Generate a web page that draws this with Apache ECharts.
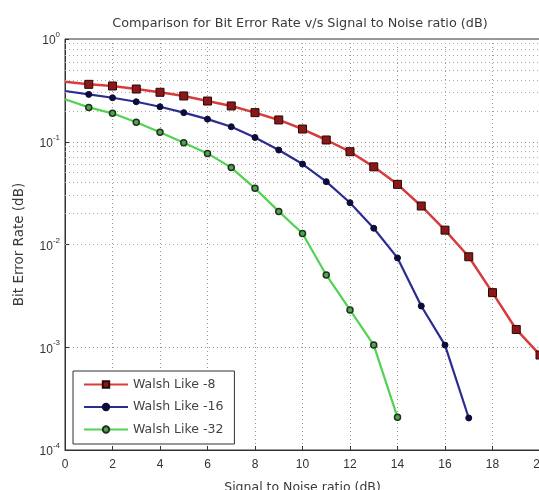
<!DOCTYPE html>
<html>
<head>
<meta charset="utf-8">
<script src="https://cdn.jsdelivr.net/npm/echarts@6/dist/echarts.min.js"></script>
<style>html,body{margin:0;padding:0;background:#fff;}#c{width:539px;height:490px;}</style>
</head>
<body>
<div id="c"></div>
<script>
var snr = [0,1,2,3,4,5,6,7,8,9,10,11,12,13,14,15,16,17,18,19,20];
var walsh8 = [0.384,0.362,0.349,0.326,0.303,0.279,0.249,0.223,0.192,0.163,0.133,0.104,0.080,0.057,0.0385,0.0237,0.0138,0.0076,0.0034,0.00149,0.00084];
var walsh16 = [0.312,0.289,0.268,0.245,0.219,0.192,0.166,0.140,0.110,0.083,0.0607,0.0409,0.0255,0.0144,0.0074,0.00252,0.00105,0.000205];
var walsh32 = [0.259,0.216,0.189,0.155,0.124,0.098,0.077,0.056,0.0352,0.0210,0.0128,0.00505,0.00231,0.00105,0.000208];
var seriesNames = ['Walsh Like -8','Walsh Like -16','Walsh Like -32'];
var xTicks = [0,2,4,6,8,10,12,14,16,18,20];
var yDecades = [-4,-3,-2,-1,0];

function pairs(vals){ return vals.map(function(v,i){ return [snr[i], v]; }); }
var minorLines = [];
for (var d = -4; d < 0; d++) {
  for (var k = 2; k <= 9; k++) minorLines.push({yAxis: k * Math.pow(10, d)});
}
var font = 'Liberation Sans, Arial, sans-serif';
var wfont = 'DejaVu Sans, sans-serif';
var chart = echarts.init(document.getElementById('c'));
chart.setOption({
  animation: false,
  backgroundColor: '#fff',
  title: {
    text: 'Comparison for Bit Error Rate v/s Signal to Noise ratio (dB)',
    left: 295, top: 12, textAlign: 'center',
    textStyle: {fontFamily: wfont, fontSize: 12.8, fontWeight: 'normal', color: '#3a3a3a'}
  },
  grid: {left: 65, top: 39, right: -1, bottom: 40, outerBoundsMode: 'none', containLabel: false,
    show: true, borderColor: '#333', borderWidth: 1, backgroundColor: 'transparent'},
  legend: {
    orient: 'vertical', left: 73, top: 371,
    data: seriesNames,
    backgroundColor: '#fff', borderColor: '#333', borderWidth: 1,
    padding: [7, 11, 8, 10], itemWidth: 44, itemHeight: 8, itemGap: 9.5,
    textStyle: {fontFamily: wfont, fontSize: 12.5, color: '#444'}
  },
  xAxis: {
    type: 'value', min: 0, max: 20, interval: 2,
    name: 'Signal to Noise ratio (dB)', nameLocation: 'middle', nameGap: 31,
    nameTextStyle: {fontFamily: wfont, fontSize: 12.5, color: '#3a3a3a'},
    axisLine: {show: true, lineStyle: {color: '#333'}},
    axisTick: {inside: true, length: 4, lineStyle: {color: '#333'}},
    axisLabel: {fontFamily: font, fontSize: 12, color: '#333', margin: 9,
      formatter: function(v){ return xTicks.indexOf(v) >= 0 ? String(v) : ''; }},
    splitLine: {show: true, lineStyle: {color: '#999', type: [1, 3]}}
  },
  yAxis: {
    type: 'log', logBase: 10, min: 1e-4, max: 1,
    name: 'Bit Error Rate (dB)', nameLocation: 'middle', nameGap: 39,
    nameTextStyle: {fontFamily: wfont, fontSize: 13.5, color: '#3a3a3a'},
    axisLine: {show: true, lineStyle: {color: '#333'}},
    axisTick: {inside: true, length: 4, lineStyle: {color: '#333'}},
    axisLabel: {
      margin: 5,
      formatter: function(v){
        var e = Math.round(Math.log(v) / Math.LN10);
        if (yDecades.indexOf(e) < 0) return '';
        return '{b|10}{s|' + e + '}';
      },
      rich: {
        b: {fontFamily: font, fontSize: 12, color: '#333', lineHeight: 16, verticalAlign: 'bottom'},
        s: {fontFamily: font, fontSize: 8, color: '#333', lineHeight: 16, verticalAlign: 'top'}
      }
    },
    splitLine: {show: true, lineStyle: {color: '#999', type: [1, 3]}}
  },
  series: [
    {
      name: seriesNames[0], type: 'line', data: pairs(walsh8),
      symbol: 'rect', symbolSize: function(v, p){ return p.dataIndex === 0 ? 0 : 8; },
      lineStyle: {color: '#d63c3c', width: 2.5},
      itemStyle: {color: '#8a1818', borderColor: '#2a0808', borderWidth: 1},
      z: 5,
      markLine: {
        silent: true, symbol: 'none', label: {show: false},
        lineStyle: {color: '#aaa', type: [1, 3], width: 1},
        data: minorLines, z: 1
      }
    },
    {
      name: seriesNames[1], type: 'line', data: pairs(walsh16),
      symbol: 'circle', symbolSize: function(v, p){ return p.dataIndex === 0 ? 0 : 6; },
      lineStyle: {color: '#2c2c90', width: 2.2},
      itemStyle: {color: '#0c0c38', borderColor: '#0c0c38', borderWidth: 1},
      z: 5
    },
    {
      name: seriesNames[2], type: 'line', data: pairs(walsh32),
      symbol: 'circle', symbolSize: function(v, p){ return p.dataIndex === 0 ? 0 : 6; },
      lineStyle: {color: '#52d252', width: 2.2},
      itemStyle: {color: '#5c9c5c', borderColor: '#163816', borderWidth: 1.5},
      z: 5
    }
  ]
});
</script>
</body>
</html>
